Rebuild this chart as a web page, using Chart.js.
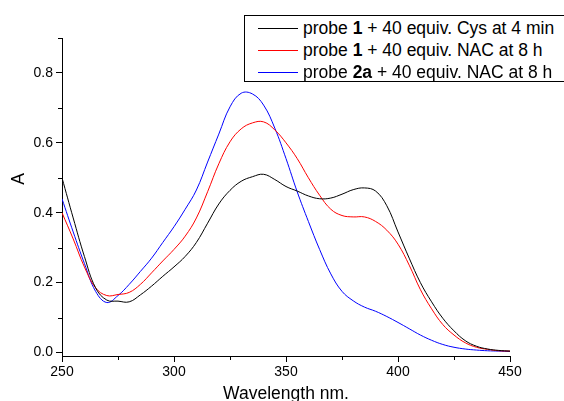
<!DOCTYPE html>
<html>
<head>
<meta charset="utf-8">
<script src="https://cdn.jsdelivr.net/npm/chart.js@4/dist/chart.umd.min.js"></script>
<style>
  body { margin: 0; background: #fff; overflow: hidden; }
  #wrap { position: relative; width: 564px; height: 401px; overflow: hidden; }
  #legend {
    position: absolute; left: 244px; top: 15px; width: 340px; height: 67px;
    border: 1px solid #000; background: #fff; box-sizing: border-box;
    font-family: "Liberation Sans", Arial, sans-serif; font-size: 17.5px; color: #000;
  }
  #legend .row { position: absolute; left: 0; width: 330px; height: 21.7px; line-height: 21.7px; white-space: nowrap; }
  #legend .swatch { position: absolute; left: 13px; width: 40px; top: 10px; height: 1px; }
  #legend .txt { position: absolute; left: 58px; top: 0; }
</style>
</head>
<body>
<div id="wrap">
  <canvas id="uvChart" width="564" height="401"></canvas>
  <div id="legend"></div>
</div>
<script>
// wavelength (nm), every 5 nm
var wavelengths = [250,255,260,265,270,275,280,285,290,295,300,305,310,315,320,325,330,335,340,345,
                   350,355,360,365,370,375,380,385,390,395,400,405,410,415,420,425,430,435,440,445,450];

var cysProbe1 = [0.50,0.385,0.275,0.185,0.150,0.147,0.145,0.165,0.19,0.218,0.245,0.275,0.315,0.37,0.425,0.464,0.49,0.503,0.51,0.495,
                 0.475,0.462,0.448,0.44,0.442,0.453,0.466,0.471,0.462,0.42,0.345,0.27,0.20,0.145,0.098,0.062,0.034,0.018,0.01,0.006,0.004];

var nacProbe1 = [0.40,0.325,0.245,0.185,0.163,0.166,0.172,0.195,0.228,0.262,0.295,0.333,0.385,0.46,0.54,0.603,0.640,0.657,0.660,0.637,
                 0.600,0.555,0.50,0.45,0.41,0.392,0.388,0.388,0.375,0.35,0.31,0.25,0.18,0.125,0.08,0.05,0.028,0.015,0.009,0.005,0.004];

var nacProbe2a = [0.44,0.345,0.255,0.175,0.143,0.163,0.195,0.232,0.27,0.315,0.36,0.41,0.465,0.545,0.625,0.703,0.742,0.740,0.708,0.642,
                  0.555,0.46,0.375,0.295,0.225,0.175,0.148,0.13,0.118,0.103,0.086,0.068,0.05,0.035,0.023,0.015,0.01,0.007,0.005,0.004,0.003];

// legend text: [plain, bold, plain]
var seriesNames = [
  ['probe ', '1', ' + 40 equiv. Cys at 4 min'],
  ['probe ', '1', ' + 40 equiv. NAC at 8 h'],
  ['probe ', '2a', ' + 40 equiv. NAC at 8 h']
];
var seriesColors = ['#000000', '#ff0000', '#0000ff'];

var xTicks = [250, 300, 350, 400, 450];
var xMinor = [275, 325, 375, 425];
var yTicks = [0.0, 0.2, 0.4, 0.6, 0.8];
var yMinor = [0.1, 0.3, 0.5, 0.7, 0.9];

function toPoints(values) {
  return wavelengths.map(function (w, i) { return { x: w, y: values[i] }; });
}

var font = "'Liberation Sans', Arial, sans-serif";

// minor ticks + the "A" axis title (sits a bit above the axis middle in the original)
var axisExtras = {
  id: 'axisExtras',
  afterDraw: function (chart) {
    var ctx = chart.ctx, area = chart.chartArea;
    var xs = chart.scales.x, ys = chart.scales.y;
    ctx.save();
    ctx.strokeStyle = '#000';
    ctx.lineWidth = 1;
    ctx.beginPath();
    yMinor.forEach(function (v) {
      var py = Math.round(ys.getPixelForValue(v)) + 0.5;
      ctx.moveTo(area.left - 4, py);
      ctx.lineTo(area.left, py);
    });
    xMinor.forEach(function (v) {
      var px = Math.round(xs.getPixelForValue(v)) + 0.5;
      ctx.moveTo(px, area.bottom);
      ctx.lineTo(px, area.bottom + 4);
    });
    ctx.stroke();

    ctx.translate(area.left - 43, (area.top + area.bottom) / 2 - 18);
    ctx.rotate(-Math.PI / 2);
    ctx.fillStyle = '#000';
    ctx.font = '17.5px ' + font;
    ctx.textAlign = 'center';
    ctx.textBaseline = 'middle';
    ctx.fillText('A', 0, 0);
    ctx.restore();
  }
};

var datasets = [cysProbe1, nacProbe1, nacProbe2a].map(function (vals, i) {
  return {
    label: seriesNames[i].join(''),
    data: toPoints(vals),
    borderColor: seriesColors[i],
    backgroundColor: seriesColors[i],
    borderWidth: 1,
    pointRadius: 0,
    tension: 0.4,
    fill: false
  };
});

var ctx = document.getElementById('uvChart').getContext('2d');
var uvChart = new Chart(ctx, {
  type: 'line',
  data: { datasets: datasets },
  options: {
    responsive: false,
    animation: false,
    layout: { padding: { top: 38, right: 54, left: 0, bottom: 0 } },
    plugins: { legend: { display: false }, tooltip: { enabled: false } },
    scales: {
      x: {
        type: 'linear',
        min: 250,
        max: 450,
        afterBuildTicks: function (scale) { scale.ticks = xTicks.map(function (v) { return { value: v }; }); },
        afterFit: function (scale) { scale.height = 45; },
        grid: { drawOnChartArea: false, drawTicks: true, tickLength: 6, color: '#000' },
        border: { display: true, color: '#000', width: 1 },
        ticks: { color: '#000', font: { family: font, size: 14 }, padding: 2, maxRotation: 0 },
        title: { display: true, text: 'Wavelength nm.', color: '#000', font: { family: font, size: 17.5 }, padding: { top: 0, bottom: -4 } }
      },
      y: {
        min: -0.01,
        max: 0.9,
        afterBuildTicks: function (scale) { scale.ticks = yTicks.map(function (v) { return { value: v }; }); },
        afterFit: function (scale) { scale.width = 62; },
        grid: { drawOnChartArea: false, drawTicks: true, tickLength: 6, color: '#000' },
        border: { display: true, color: '#000', width: 1 },
        ticks: { color: '#000', font: { family: font, size: 14 }, padding: 3,
                 callback: function (v) { return v.toFixed(1); } }
      }
    }
  },
  plugins: [axisExtras]
});

// legend with bold probe numbers
var legend = document.getElementById('legend');
seriesNames.forEach(function (parts, i) {
  var row = document.createElement('div');
  row.className = 'row';
  row.style.top = (2.2 + i * 21.7) + 'px';
  row.innerHTML = '<span class="swatch" style="background:' + seriesColors[i] + '"></span>' +
    '<span class="txt">' + parts[0] + '<b>' + parts[1] + '</b>' + parts[2] + '</span>';
  legend.appendChild(row);
});
</script>
</body>
</html>
